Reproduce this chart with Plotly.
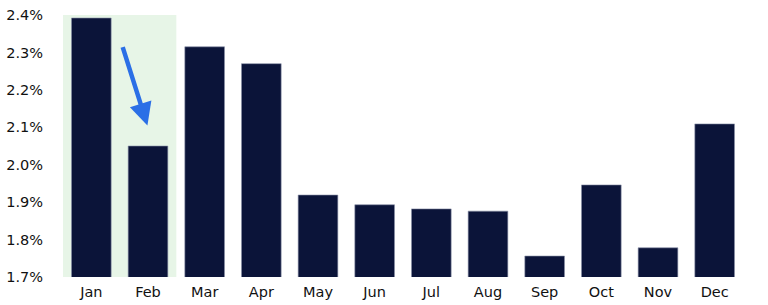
import plotly.graph_objects as go

months = ["Jan", "Feb", "Mar", "Apr", "May", "Jun", "Jul", "Aug", "Sep", "Oct", "Nov", "Dec"]
values = [2.392, 2.050, 2.315, 2.270, 1.919, 1.893, 1.882, 1.876, 1.756, 1.946, 1.778, 2.109]
y_ticks = [1.7, 1.8, 1.9, 2.0, 2.1, 2.2, 2.3, 2.4]
y_labels = ["1.7%", "1.8%", "1.9%", "2.0%", "2.1%", "2.2%", "2.3%", "2.4%"]

fig = go.Figure()
fig.add_trace(go.Bar(
    x=list(range(len(months))), y=values,
    marker=dict(color="#0b1439", line=dict(color="#8a90a8", width=0.6)),
    width=0.7,
))

fig.add_shape(type="rect", xref="x", yref="paper", x0=-0.5, x1=1.5, y0=0, y1=1,
              fillcolor="#e7f5e7", line=dict(width=0), layer="below")

fig.add_annotation(x=0.99, y=2.105, ax=0.545, ay=2.318, xref="x", yref="y",
                   axref="x", ayref="y", showarrow=True, arrowhead=2,
                   arrowsize=1.0, arrowwidth=4.5, arrowcolor="#2b6fe6", text="")

fig.update_layout(
    width=768, height=305,
    margin=dict(l=63, r=25, t=15, b=28),
    plot_bgcolor="white", paper_bgcolor="white",
    showlegend=False, bargap=0.3,
    font=dict(family="DejaVu Sans", size=14.5, color="#111111"),
)
fig.update_xaxes(range=[-0.5, 11.5], tickvals=list(range(len(months))), ticktext=months,
                 showgrid=False, zeroline=False, showline=False, ticks="",
                 ticklabelstandoff=4, automargin=False)
fig.update_yaxes(range=[1.7, 2.4], tickvals=y_ticks, ticktext=y_labels,
                 showgrid=False, zeroline=False, showline=False, ticks="",
                 ticklabelstandoff=19, automargin=False)

fig.write_html("out.html")
